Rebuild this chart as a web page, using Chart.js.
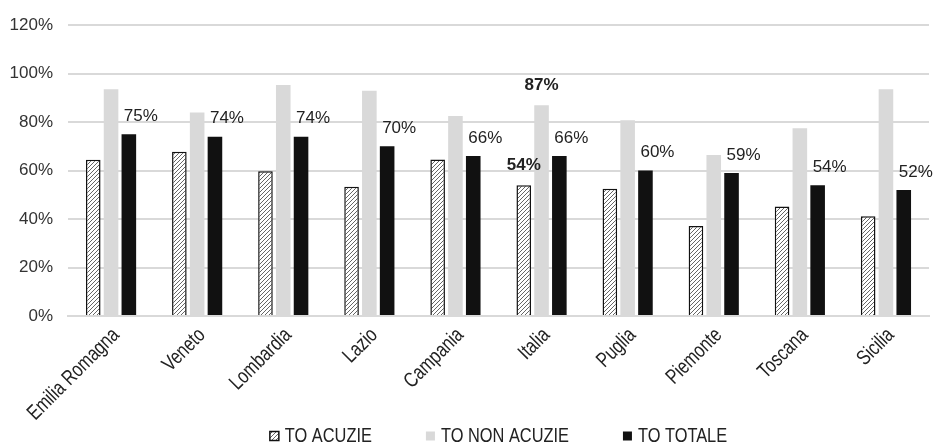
<!DOCTYPE html>
<html>
<head>
<meta charset="utf-8">
<script src="https://cdn.jsdelivr.net/npm/chart.js@4.4.1/dist/chart.umd.min.js"></script>
<style>
  html, body { margin: 0; padding: 0; background: #fff; }
  #wrap { width: 933px; height: 444px; position: relative; }
</style>
</head>
<body>
<div id="wrap"><canvas id="grafico"></canvas></div>
<script>
// regioni e percentuali di turnover
const regioni = ['Emilia Romagna', 'Veneto', 'Lombardia', 'Lazio', 'Campania', 'Italia', 'Puglia', 'Piemonte', 'Toscana', 'Sicilia'];
const toAcuzie = [64.5, 67.8, 59.7, 53.3, 64.6, 54, 52.5, 37.1, 45.2, 41.2];
const toNonAcuzie = [93.6, 84, 95.3, 92.9, 82.5, 87, 80.8, 66.4, 77.5, 93.6];
const toTotale = [75, 74, 74, 70, 66, 66, 60, 59, 54, 52];
const serie = ['TO ACUZIE', 'TO NON ACUZIE', 'TO TOTALE'];
const yTicks = [0, 20, 40, 60, 80, 100, 120];
const indiceItalia = regioni.indexOf('Italia');

const fontNumeri = '"Liberation Sans", Arial, sans-serif';
const fontTesti = '21px "Liberation Sans", Arial, sans-serif';
const stretto = 0.78; // compressione orizzontale dei testi

// tratteggio diagonale per TO ACUZIE
function creaTratteggio() {
    const c = document.createElement('canvas');
    c.width = 4;
    c.height = 4;
    const g = c.getContext('2d');
    g.fillStyle = '#ffffff';
    g.fillRect(0, 0, 4, 4);
    g.strokeStyle = '#666666';
    g.lineWidth = 1;
    g.beginPath();
    g.moveTo(0, 4); g.lineTo(4, 0);
    g.moveTo(-1, 1); g.lineTo(1, -1);
    g.moveTo(3, 5); g.lineTo(5, 3);
    g.stroke();
    return g.createPattern(c, 'repeat');
}

function testoStretto(ctx, testo, x, y, angolo, allineamento) {
    ctx.save();
    ctx.translate(x, y);
    ctx.rotate(angolo);
    ctx.scale(stretto, 1);
    ctx.textAlign = allineamento;
    ctx.fillText(testo, 0, 0);
    ctx.restore();
}

// etichette dei valori sopra le barre
const etichette = {
    id: 'etichette',
    afterDatasetsDraw(chart) {
        const ctx = chart.ctx;
        ctx.save();
        ctx.textBaseline = 'middle';
        ctx.textAlign = 'center';
        ctx.fillStyle = '#222222';

        // TO TOTALE per ogni regione
        ctx.font = '17px ' + fontNumeri;
        chart.getDatasetMeta(2).data.forEach((bar, i) => {
            ctx.fillText(toTotale[i] + '%', bar.x + 12, bar.y - 18);
        });

        // dato nazionale in grassetto
        ctx.font = 'bold 17px ' + fontNumeri;
        [0, 1].forEach(d => {
            const bar = chart.getDatasetMeta(d).data[indiceItalia];
            const v = chart.data.datasets[d].data[indiceItalia];
            ctx.fillText(Math.round(v) + '%', bar.x, bar.y - 20);
        });
        ctx.restore();
    }
};

// nomi delle regioni inclinati e legenda in basso
const testiAsse = {
    id: 'testiAsse',
    afterDraw(chart) {
        const ctx = chart.ctx;
        const area = chart.chartArea;
        const x = chart.scales.x;
        ctx.save();
        ctx.fillStyle = '#222222';
        ctx.font = fontTesti;
        ctx.textBaseline = 'middle';
        regioni.forEach((r, i) => {
            testoStretto(ctx, r, x.getPixelForTick(i) + 5, area.bottom + 16, -Math.PI / 4, 'right');
        });

        // legenda
        const colori = chart.data.datasets.map(d => d.backgroundColor);
        const box = 9, spazio = 6, passo = 54;
        const larghezze = serie.map(s => ctx.measureText(s).width * stretto);
        const totale = larghezze.reduce((a, w) => a + box + spazio + w, 0) + passo * (serie.length - 1);
        let lx = (area.left + area.right) / 2 - totale / 2;
        const ly = chart.height - 8;
        serie.forEach((s, i) => {
            ctx.fillStyle = colori[i];
            ctx.fillRect(lx, ly - box / 2, box, box);
            if (i === 0) {
                ctx.strokeStyle = '#111111';
                ctx.lineWidth = 1.5;
                ctx.strokeRect(lx, ly - box / 2, box, box);
            }
            ctx.fillStyle = '#222222';
            testoStretto(ctx, s, lx + box + spazio, ly, 0, 'left');
            lx += box + spazio + larghezze[i] + passo;
        });
        ctx.restore();
    }
};

const tratteggio = creaTratteggio();

const config = {
    type: 'bar',
    data: {
        labels: regioni,
        datasets: [
            {
                label: serie[0],
                data: toAcuzie,
                backgroundColor: tratteggio,
                borderColor: '#111111',
                borderWidth: 1.5,
                categoryPercentage: 0.62,
                barPercentage: 0.82,
            },
            {
                label: serie[1],
                data: toNonAcuzie,
                backgroundColor: '#d9d9d9',
                borderWidth: 0,
                categoryPercentage: 0.62,
                barPercentage: 0.82,
            },
            {
                label: serie[2],
                data: toTotale,
                backgroundColor: '#111111',
                borderWidth: 0,
                categoryPercentage: 0.62,
                barPercentage: 0.82,
            },
        ]
    },
    options: {
        responsive: true,
        maintainAspectRatio: false,
        animation: false,
        layout: { padding: { left: 9, right: 4, top: 15, bottom: 28 } },
        scales: {
            x: {
                grid: { display: false },
                border: { display: true, color: '#d9d9d9', width: 2 },
                ticks: { display: false },
                afterFit: (scale) => {
                    scale.height = 100;
                    scale.paddingLeft = 0;
                    scale.paddingRight = 0;
                },
            },
            y: {
                min: 0,
                max: 120,
                afterBuildTicks: (axis) => {
                    axis.ticks = yTicks.map(v => ({ value: v }));
                },
                afterFit: (scale) => { scale.width = 59; },
                grid: { color: '#d9d9d9', lineWidth: 2, drawTicks: false },
                border: { display: false },
                ticks: {
                    color: '#333333',
                    padding: 15,
                    font: { family: fontNumeri, size: 17 },
                    callback: (v) => v + '%',
                },
            },
        },
        plugins: {
            tooltip: { enabled: false },
            legend: { display: false },
        },
    },
    plugins: [etichette, testiAsse],
};

new Chart(document.getElementById('grafico'), config);
</script>
</body>
</html>
